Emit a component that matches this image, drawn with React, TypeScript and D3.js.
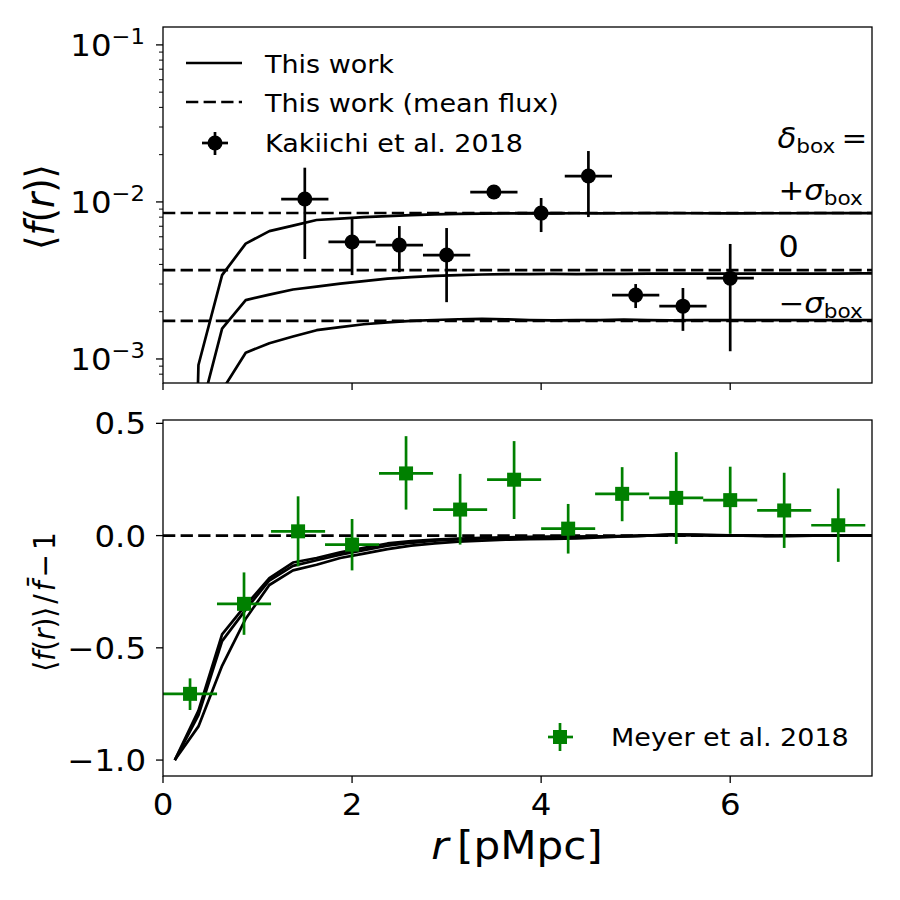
import * as d3 from "d3";

// simulation radial bins (pMpc)
const rSim = [
  0.125, 0.375, 0.625, 0.875, 1.125, 1.375, 1.625, 1.875, 2.125, 2.375, 2.625,
  2.875, 3.125, 3.375, 3.625, 3.875, 4.125, 4.375, 4.625, 4.875, 5.125, 5.375,
  5.625, 5.875, 6.125, 6.375, 6.625, 6.875, 7.125, 7.375, 7.625,
];

// <f(r)> for delta_box = +sigma, 0, -sigma
const fPlus = [
  1e-9, 9.15e-4, 3.42e-3, 5.43e-3, 6.52e-3, 7.07e-3, 7.67e-3, 7.83e-3, 8.01e-3,
  8.13e-3, 8.25e-3, 8.33e-3, 8.4e-3, 8.43e-3, 8.45e-3, 8.46e-3, 8.46e-3, 8.47e-3,
  8.46e-3, 8.47e-3, 8.48e-3, 8.48e-3, 8.47e-3, 8.46e-3, 8.46e-3, 8.47e-3, 8.47e-3,
  8.48e-3, 8.48e-3, 8.48e-3, 8.48e-3,
];
const fZero = [
  1e-9, 4.08e-4, 1.56e-3, 2.37e-3, 2.57e-3, 2.77e-3, 2.89e-3, 3.02e-3, 3.13e-3,
  3.25e-3, 3.32e-3, 3.38e-3, 3.42e-3, 3.45e-3, 3.47e-3, 3.47e-3, 3.48e-3, 3.47e-3,
  3.48e-3, 3.48e-3, 3.49e-3, 3.5e-3, 3.5e-3, 3.49e-3, 3.49e-3, 3.49e-3, 3.5e-3,
  3.5e-3, 3.5e-3, 3.51e-3, 3.51e-3,
];
const fMinus = [
  1e-9, 1e-5, 6.31e-4, 1.096e-3, 1.26e-3, 1.39e-3, 1.525e-3, 1.594e-3, 1.663e-3,
  1.712e-3, 1.747e-3, 1.771e-3, 1.79e-3, 1.8e-3, 1.79e-3, 1.77e-3, 1.76e-3,
  1.77e-3, 1.77e-3, 1.78e-3, 1.77e-3, 1.76e-3, 1.77e-3, 1.77e-3, 1.77e-3, 1.77e-3,
  1.77e-3, 1.77e-3, 1.77e-3, 1.77e-3, 1.77e-3,
];
// mean flux levels (dashed)
const fMean = [8.5e-3, 3.68e-3, 1.75e-3];

// <f(r)>/fbar - 1
const relA = [
  -1.0, -0.78, -0.44, -0.31, -0.19, -0.12, -0.1, -0.075, -0.055, -0.035, -0.025,
  -0.018, -0.013, -0.01, -0.008, -0.006, -0.005, -0.005, -0.003, -0.002, 0.0,
  0.003, 0.002, 0.0, 0.0, -0.001, 0.0, 0.0, 0.001, 0.001, 0.001,
];
const relB = [
  -1.0, -0.8, -0.47, -0.33, -0.2, -0.135, -0.11, -0.085, -0.065, -0.045, -0.032,
  -0.023, -0.017, -0.013, -0.01, -0.008, -0.007, -0.006, -0.004, -0.002, 0.0,
  0.002, 0.002, 0.001, 0.0, 0.0, 0.0, 0.0, 0.001, 0.001, 0.001,
];
const relC = [
  -1.0, -0.85, -0.58, -0.37, -0.22, -0.155, -0.13, -0.1, -0.08, -0.06, -0.045,
  -0.035, -0.027, -0.022, -0.018, -0.016, -0.015, -0.012, -0.008, -0.004, 0.0,
  0.006, 0.005, 0.002, 0.0, -0.002, -0.002, 0.0, 0.001, 0.001, 0.001,
];

// Kakiichi et al. 2018
const kakX = [1.5, 2, 2.5, 3, 3.5, 4, 4.5, 5, 5.5, 6];
const kakY = [0.01043, 0.00556, 0.00531, 0.00459, 0.01156, 0.00849, 0.01462, 0.00255, 0.00217, 0.00327];
const kakLo = [0.00433, 0.00342, 0.00357, 0.0023, 0.01043, 0.00643, 0.00801, 0.00211, 0.00151, 0.00112];
const kakHi = [0.01652, 0.00778, 0.00702, 0.00682, 0.01282, 0.01059, 0.02109, 0.003, 0.00283, 0.0054];
const kakXerr = 0.25;

// Meyer et al. 2018
const meyX = [0.286, 0.857, 1.429, 2.0, 2.571, 3.143, 3.714, 4.286, 4.857, 5.429, 6.0, 6.571, 7.143];
const meyY = [-0.705, -0.304, 0.019, -0.04, 0.277, 0.116, 0.249, 0.031, 0.186, 0.168, 0.158, 0.112, 0.046];
const meyLo = [-0.777, -0.442, -0.137, -0.155, 0.116, -0.04, 0.074, -0.08, 0.064, -0.037, 0.008, -0.055, -0.117];
const meyHi = [-0.636, -0.164, 0.175, 0.074, 0.443, 0.275, 0.421, 0.141, 0.305, 0.372, 0.307, 0.28, 0.21];
const meyXerr = 0.286;

const xTicks = [0, 2, 4, 6];
const botTicks = [0.5, 0.0, -0.5, -1.0];
const botTickLabels = ["0.5", "0.0", "\u22120.5", "\u22121.0"];
const topMajor = [1e-1, 1e-2, 1e-3];
const topMajorExp = ["\u22121", "\u22122", "\u22123"];

const W = 900;
const H = 900;
const left = 163;
const right = 872;
const topY0 = 27;
const topY1 = 383;
const botY0 = 420;
const botY1 = 776;
const SX = 1.08;
const FONT = "DejaVu Sans";
const GREEN = "#008000";
const LW = 2.7;
const DASH = "12.3,5.3";

const x = d3.scaleLinear().domain([0, 7.5]).range([left, right]);
const yTop = d3.scaleLog().domain([7.03e-4, 0.13]).range([topY1, topY0]);
const yBot = d3.scaleLinear().domain([-1.071, 0.515]).range([botY1, botY0]);

const Txt = ({ x, y, size, anchor = "start", rotate = 0, children }: any) => (
  <text
    transform={`translate(${x},${y}) scale(${SX},1)${rotate ? ` rotate(${rotate})` : ""}`}
    fontSize={size}
    textAnchor={anchor}
    fontFamily={FONT}
    fill="#000"
  >
    {children}
  </text>
);

const App = () => {
  const topLine = (f: number[]) =>
    d3.line<number>().x((d, i) => x(rSim[i])).y((d) => yTop(d))(f) as string;
  const botLine = (v: number[]) =>
    d3.line<number>().x((d, i) => x(rSim[i])).y((d) => yBot(d))(v) as string;

  const minorTop = yTop.ticks().filter((t) => !topMajor.some((m) => Math.abs(m - t) / m < 1e-6));

  return (
    <svg width={W} height={H} style={{ position: "absolute", left: 0, top: 0, background: "#fff" }}>
      <defs>
        <clipPath id="clipTop">
          <rect x={left} y={topY0} width={right - left} height={topY1 - topY0} />
        </clipPath>
        <clipPath id="clipBot">
          <rect x={left} y={botY0} width={right - left} height={botY1 - botY0} />
        </clipPath>
      </defs>

      {/* ---------- top panel ---------- */}
      <g clipPath="url(#clipTop)">
        {fMean.map((m, i) => (
          <line key={i} x1={x(0)} x2={x(7.5)} y1={yTop(m)} y2={yTop(m)} stroke="#000" strokeWidth={LW} strokeDasharray={DASH} />
        ))}
        {[fPlus, fZero, fMinus].map((f, i) => (
          <path key={i} d={topLine(f)} fill="none" stroke="#000" strokeWidth={LW} strokeLinejoin="round" />
        ))}
        {kakX.map((r, i) => (
          <g key={i}>
            <line x1={x(r - kakXerr)} x2={x(r + kakXerr)} y1={yTop(kakY[i])} y2={yTop(kakY[i])} stroke="#000" strokeWidth={LW} />
            <line x1={x(r)} x2={x(r)} y1={yTop(kakLo[i])} y2={yTop(kakHi[i])} stroke="#000" strokeWidth={LW} />
            <circle cx={x(r)} cy={yTop(kakY[i])} r={7.5} fill="#000" />
          </g>
        ))}
      </g>
      <rect x={left} y={topY0} width={right - left} height={topY1 - topY0} fill="none" stroke="#000" strokeWidth={1.3} />
      {xTicks.map((t) => (
        <line key={t} x1={x(t)} x2={x(t)} y1={topY1} y2={topY1 + 7} stroke="#000" strokeWidth={1.3} />
      ))}
      {topMajor.map((t, i) => (
        <g key={t}>
          <line x1={left - 7} x2={left} y1={yTop(t)} y2={yTop(t)} stroke="#000" strokeWidth={1.3} />
          <Txt x={145} y={yTop(t) + 11.5} size={30} anchor="end">
            10<tspan fontSize={21} dy={-12}>{topMajorExp[i]}</tspan>
          </Txt>
        </g>
      ))}
      {minorTop.map((t) => (
        <line key={t} x1={left - 4} x2={left} y1={yTop(t)} y2={yTop(t)} stroke="#000" strokeWidth={1} />
      ))}
      <Txt x={54} y={207} size={37} anchor="middle" rotate={-90}>
        {"\u27E8"}<tspan fontStyle="italic">f</tspan>(<tspan fontStyle="italic">r</tspan>){"\u27E9"}
      </Txt>

      {/* legend top */}
      <line x1={186} x2={242} y1={63} y2={63} stroke="#000" strokeWidth={LW} />
      <Txt x={265} y={73} size={25}>This work</Txt>
      <line x1={186} x2={242} y1={102} y2={102} stroke="#000" strokeWidth={LW} strokeDasharray={DASH} />
      <Txt x={265} y={112} size={25}>This work (mean flux)</Txt>
      <line x1={202} x2={228} y1={143} y2={143} stroke="#000" strokeWidth={LW} />
      <line x1={215} x2={215} y1={132} y2={155} stroke="#000" strokeWidth={LW} />
      <circle cx={215} cy={143} r={7.5} fill="#000" />
      <Txt x={265} y={152} size={25}>Kakiichi et al. 2018</Txt>

      {/* annotations */}
      <Txt x={x(6.5)} y={148} size={28.5}>
        <tspan fontStyle="italic">{"\u03B4"}</tspan>
        <tspan fontSize={20} dy={5}>box</tspan>
        <tspan dy={-5}>{"\u2009="}</tspan>
      </Txt>
      <Txt x={x(6.5) + 1} y={200} size={28.5}>
        +<tspan fontStyle="italic">{"\u03C3"}</tspan>
        <tspan fontSize={20} dy={5}>box</tspan>
      </Txt>
      <Txt x={x(6.5) + 1} y={257} size={29.5}>0</Txt>
      <Txt x={x(6.5) + 1} y={313} size={28.5}>
        {"\u2212"}<tspan fontStyle="italic">{"\u03C3"}</tspan>
        <tspan fontSize={20} dy={5}>box</tspan>
      </Txt>

      {/* ---------- bottom panel ---------- */}
      <g clipPath="url(#clipBot)">
        {[relA, relB, relC].map((v, i) => (
          <path key={i} d={botLine(v)} fill="none" stroke="#000" strokeWidth={LW} strokeLinejoin="round" />
        ))}
        <line x1={x(0)} x2={x(7.5)} y1={yBot(0)} y2={yBot(0)} stroke="#000" strokeWidth={LW} strokeDasharray={DASH} />
        {meyX.map((r, i) => (
          <g key={i}>
            <line x1={x(r - meyXerr)} x2={x(r + meyXerr)} y1={yBot(meyY[i])} y2={yBot(meyY[i])} stroke={GREEN} strokeWidth={LW} />
            <line x1={x(r)} x2={x(r)} y1={yBot(meyLo[i])} y2={yBot(meyHi[i])} stroke={GREEN} strokeWidth={LW} />
            <rect x={x(r) - 7} y={yBot(meyY[i]) - 7} width={14} height={14} fill={GREEN} />
          </g>
        ))}
      </g>
      <rect x={left} y={botY0} width={right - left} height={botY1 - botY0} fill="none" stroke="#000" strokeWidth={1.3} />
      {xTicks.map((t) => (
        <g key={t}>
          <line x1={x(t)} x2={x(t)} y1={botY1} y2={botY1 + 7} stroke="#000" strokeWidth={1.3} />
          <Txt x={x(t)} y={815} size={30} anchor="middle">{String(t)}</Txt>
        </g>
      ))}
      {botTicks.map((t, i) => (
        <g key={t}>
          <line x1={left - 7} x2={left} y1={yBot(t)} y2={yBot(t)} stroke="#000" strokeWidth={1.3} />
          <Txt x={146} y={yBot(t) + 11} size={30} anchor="end">{botTickLabels[i]}</Txt>
        </g>
      ))}
      <Txt x={55} y={602} size={28} anchor="middle" rotate={-90}>
        {"\u27E8"}<tspan fontStyle="italic">f</tspan>(<tspan fontStyle="italic">r</tspan>){"\u27E9"}
        <tspan dx={3}>/</tspan>
        <tspan dx={3} fontStyle="italic">{"f\u0304"}</tspan>
        <tspan dx={4}>{"\u2212"}</tspan>
        <tspan dx={4}>1</tspan>
      </Txt>
      <Txt x={517} y={859} size={39} anchor="middle">
        <tspan fontStyle="italic">r</tspan>{"\u2009[pMpc]"}
      </Txt>

      {/* legend bottom */}
      <line x1={548} x2={573} y1={737} y2={737} stroke={GREEN} strokeWidth={LW} />
      <line x1={560} x2={560} y1={723} y2={751} stroke={GREEN} strokeWidth={LW} />
      <rect x={553} y={730} width={14} height={14} fill={GREEN} />
      <Txt x={611} y={746} size={25}>Meyer et al. 2018</Txt>
    </svg>
  );
};

export default App;
